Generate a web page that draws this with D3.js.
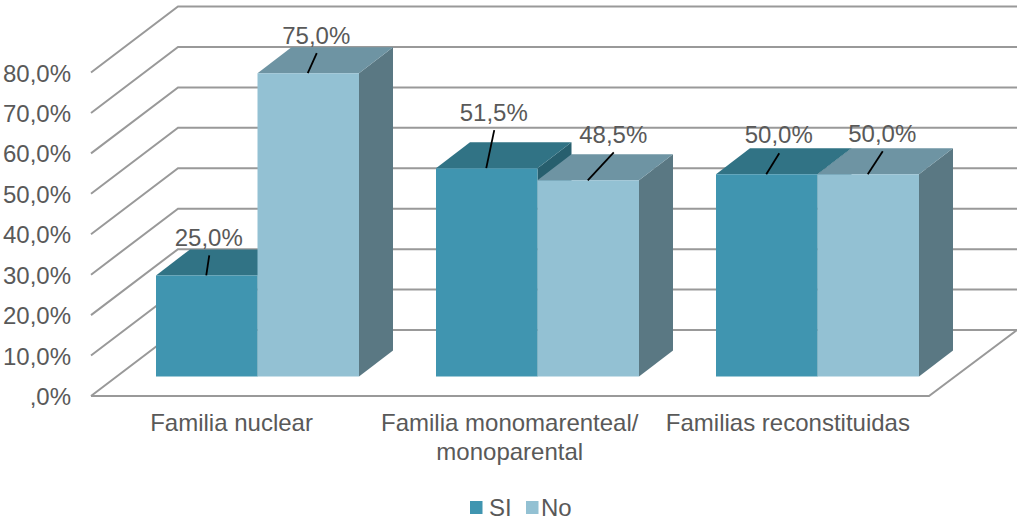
<!DOCTYPE html>
<html lang="es">
<head>
<meta charset="utf-8">
<style>
  html, body { margin: 0; padding: 0; background: #fff; }
  svg { display: block; }
  text { font-family: "Liberation Sans", Arial, sans-serif; fill: #595959; }
</style>
<script src="https://cdn.jsdelivr.net/npm/d3@7"></script>
</head>
<body>
<svg id="chart" width="1017" height="521"></svg>
<script>
// Survey results by family type
const categories = ["Familia nuclear", "Familia monomarenteal/\nmonoparental", "Familias reconstituidas"];
const seriesNames = ["SI", "No"];
const siValues = [25.0, 51.5, 50.0];
const noValues = [75.0, 48.5, 50.0];
const axisTicks = [0, 10, 20, 30, 40, 50, 60, 70, 80];

// Leader-line ends for the value labels, relative to the top centre of each bar
const siLeaders = [[3, -20], [8, -38], [13, -21]];
const noLeaders = [[9, -20], [26, -28], [15, -23]];
const siLabelGaps = [-9, -9, -10];
const noLabelGaps = [-9, -9, -9];

// Palette: front, top and side faces of the extruded bars
const faces = {
  SI: { front: "#4095b0", top: "#317385", side: "#275f6e" },
  No: { front: "#93c1d3", top: "#6e94a3", side: "#5a7883" }
};
const fontSize = 24;

const svg = d3.select("#chart");

// Oblique projection: the front wall plane and the shift to the back wall
const wall = { left: 91, right: 929, dx: 87, dy: -66 };
const yWall = d3.scaleLinear().domain([0, 80]).range([396, 72.5]);
const yBar = d3.scaleLinear().domain([0, 80]).range([376.5, 52.9]);
const barDepth = { dx: 34, dy: -26 };

const xGroup = d3.scaleBand().domain(categories).range([117.5, 957.5])
  .paddingInner(0.275).paddingOuter(0.1375);
const xSeries = d3.scaleBand().domain(seriesNames).range([0, xGroup.bandwidth()]);
// Category labels sit on the front edge of the floor
const xLabel = d3.scaleBand().domain(categories).range([92.5, 927]);

// Gridlines on the back wall and the left wall
const grid = svg.append("g")
  .attr("fill", "none").attr("stroke", "#999999").attr("stroke-width", 2);
axisTicks.forEach(t => {
  const y = yWall(t);
  const pts = [[wall.left, y], [wall.left + wall.dx, y + wall.dy], [1017, y + wall.dy]];
  grid.append("path").attr("d", d3.line()(pts));
});
// Floor outline
grid.append("path").attr("d", d3.line()([
  [wall.left, yWall(0)], [wall.right, yWall(0)], [wall.right + wall.dx + 1, yWall(0) + wall.dy]
]));

// Extruded bars
const barsLayer = svg.append("g");
const labelsLayer = svg.append("g");
const polygon = pts => pts.map(p => p.join(",")).join(" ");

function drawBar(groupIndex, name, value, leader, gap) {
  const x0 = xGroup(categories[groupIndex]) + xSeries(name);
  const x1 = x0 + xSeries.bandwidth();
  const y0 = yBar(0), y1 = yBar(value);
  const { dx, dy } = barDepth;
  const c = faces[name];
  barsLayer.append("polygon").attr("fill", c.side)
    .attr("points", polygon([[x1, y1], [x1 + dx, y1 + dy], [x1 + dx, y0 + dy], [x1, y0]]));
  barsLayer.append("polygon").attr("fill", c.top)
    .attr("points", polygon([[x0, y1], [x0 + dx, y1 + dy], [x1 + dx, y1 + dy], [x1, y1]]));
  barsLayer.append("polygon").attr("fill", c.front)
    .attr("points", polygon([[x0, y1], [x1, y1], [x1, y0], [x0, y0]]));

  // Value label with its leader line
  const cx = (x0 + x1) / 2 - 0.5;
  const tipX = cx + leader[0], tipY = y1 + leader[1];
  labelsLayer.append("line")
    .attr("x1", cx).attr("y1", y1).attr("x2", tipX).attr("y2", tipY)
    .attr("stroke", "#000").attr("stroke-width", 1.8);
  labelsLayer.append("text")
    .attr("x", tipX - 0.5).attr("y", tipY + gap)
    .attr("text-anchor", "middle").attr("font-size", fontSize)
    .text(value.toFixed(1).replace(".", ",") + "%");
}

categories.forEach((_, i) => {
  drawBar(i, "SI", siValues[i], siLeaders[i], siLabelGaps[i]);
  drawBar(i, "No", noValues[i], noLeaders[i], noLabelGaps[i]);
});

// Value axis
const axis = d3.axisLeft(yWall).tickValues(axisTicks).tickSize(0).tickPadding(0)
  .tickFormat(d => (d === 0 ? "" : d) + ",0%");
const axisG = svg.append("g").attr("transform", "translate(71,0)").call(axis);
axisG.select(".domain").remove();
axisG.selectAll("text")
  .attr("font-size", fontSize).attr("font-family", "Liberation Sans")
  .attr("fill", "#595959").attr("dy", "8.5");

// Category labels
categories.forEach(cat => {
  const t = svg.append("text")
    .attr("text-anchor", "middle").attr("font-size", fontSize)
    .attr("y", 431);
  const cx = xLabel(cat) + xLabel.bandwidth() / 2;
  cat.split("\n").forEach((line, i) => {
    t.append("tspan").attr("x", cx).attr("dy", i ? 29 : 0).text(line);
  });
});

// Legend
const legendX = d3.scaleOrdinal().domain(seriesNames).range([470, 526]);
const legendTextX = d3.scaleOrdinal().domain(seriesNames).range([489, 541]);
seriesNames.forEach(name => {
  svg.append("rect").attr("x", legendX(name)).attr("y", 501).attr("width", 12.5).attr("height", 13)
    .attr("fill", faces[name].front);
  svg.append("text").attr("x", legendTextX(name)).attr("y", 516)
    .attr("font-size", fontSize).text(name);
});
</script>
</body>
</html>
